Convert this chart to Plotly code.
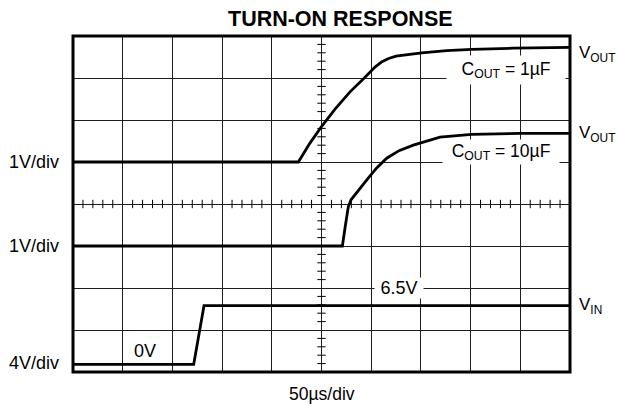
import numpy as np
import plotly.graph_objects as go

# Time axis: 50 µs/div, 10 divisions; vertical axis in divisions (8 total)
X_RANGE = [0, 500]
Y_RANGE = [0, 8]

# V_OUT with C_OUT = 1 µF (1 V/div, trace ground at division 5)
t_out1 = [0, 226.7, 238.4, 250.2, 263.6, 278.7, 293.8, 303.8, 310.9, 316.9,
          324.9, 339.0, 350.8, 375.9, 401.1, 443.0, 500]
v_out1 = [5.0, 5.0, 5.45, 5.85, 6.26, 6.67, 7.02, 7.26, 7.39, 7.46,
          7.52, 7.57, 7.60, 7.65, 7.68, 7.71, 7.73]

# V_OUT with C_OUT = 10 µF (1 V/div, trace ground at division 3)
t_out10 = [0, 271.0, 274.1, 277.0, 279.7, 287.0, 296.8, 305.5, 315.6, 328.0,
           342.4, 369.2, 401.1, 449.6, 500]
v_out10 = [3.0, 3.0, 3.5, 3.94, 4.10, 4.33, 4.61, 4.86, 5.09, 5.27,
           5.40, 5.59, 5.66, 5.68, 5.68]

# V_IN step 0 V -> 6.5 V (4 V/div)
t_in = [0, 121.4, 131.8, 500]
v_in = [0.18, 0.18, 1.58, 1.58]

FONT = "Liberation Sans, Arial, Helvetica, sans-serif"
INK = "black"

fig = go.Figure()

# Graticule sub-division ticks along the two centre lines
x_minor = [x for x in np.arange(10, 500, 10) if x % 50 != 0]
y_minor = [y for y in np.round(np.arange(0.2, 8.0, 0.2), 2) if abs(y - round(y)) > 1e-6]
fig.add_trace(go.Scatter(x=x_minor, y=[4] * len(x_minor), mode="markers",
                         marker=dict(symbol="line-ns", size=6,
                                     line=dict(color=INK, width=1)),
                         hoverinfo="skip"))
fig.add_trace(go.Scatter(x=[250] * len(y_minor), y=y_minor, mode="markers",
                         marker=dict(symbol="line-ew", size=6,
                                     line=dict(color=INK, width=1)),
                         hoverinfo="skip"))

for tx, vy in [(t_out1, v_out1), (t_out10, v_out10), (t_in, v_in)]:
    fig.add_trace(go.Scatter(x=tx, y=vy, mode="lines",
                             line=dict(color=INK, width=2.8),
                             hoverinfo="skip"))

ann = []


def label(text, x, y, ref="paper", size=18, xanchor="center", yanchor="middle", **kw):
    xref, yref = ("paper", "paper") if ref == "paper" else ("x", "y")
    ann.append(dict(text=text, x=x, y=y, xref=xref, yref=yref, showarrow=False,
                    xanchor=xanchor, yanchor=yanchor,
                    font=dict(family=FONT, size=size, color=INK), **kw))


# Texts around the graticule (paper coordinates)
label("<b>TURN-ON RESPONSE</b>", 0.539, 1.051, size=21.5)
label("50µs/div", 0.500, -0.064, size=17.5, borderpad=0)
label("1V/div", -0.024, 0.625, xanchor="right")
label("1V/div", -0.024, 0.375, xanchor="right")
label("4V/div", -0.024, 0.026, xanchor="right")
label("V<sub>OUT</sub>", 1.014, 0.946, size=17, xanchor="left")
label("V<sub>OUT</sub>", 1.014, 0.708, size=17, xanchor="left")
label("V<sub>IN</sub>", 1.014, 0.196, size=17, xanchor="left")

# Texts inside the graticule (data coordinates)
label("0V", 72.4, 0.49, ref="data")
label("C<sub>OUT</sub> = 1µF", 435.6, 7.19, ref="data", size=17.5,
      bgcolor="white", width=116, height=26)
label("C<sub>OUT</sub> = 10µF", 431.0, 5.24, ref="data", size=17.5,
      bgcolor="white", width=114, height=22)
label("6.5V", 327.5, 2.0, ref="data", bgcolor="white", width=46, height=18)

fig.update_layout(
    width=618, height=406,
    margin=dict(l=73, r=48, t=36, b=34),
    paper_bgcolor="white", plot_bgcolor="white",
    showlegend=False, hovermode=False,
    annotations=ann,
    shapes=[dict(type="rect", xref="paper", yref="paper", x0=0, x1=1, y0=0, y1=1,
                 line=dict(color=INK, width=3), layer="above")],
)
axis_style = dict(showgrid=True, gridcolor="#1e1e1e", gridwidth=1,
                  showticklabels=False, ticks="", zeroline=False, showline=False,
                  fixedrange=True)
fig.update_xaxes(range=X_RANGE, dtick=50, tick0=0, **axis_style)
fig.update_yaxes(range=Y_RANGE, dtick=1, tick0=0, **axis_style)

fig.write_html("out.html")
